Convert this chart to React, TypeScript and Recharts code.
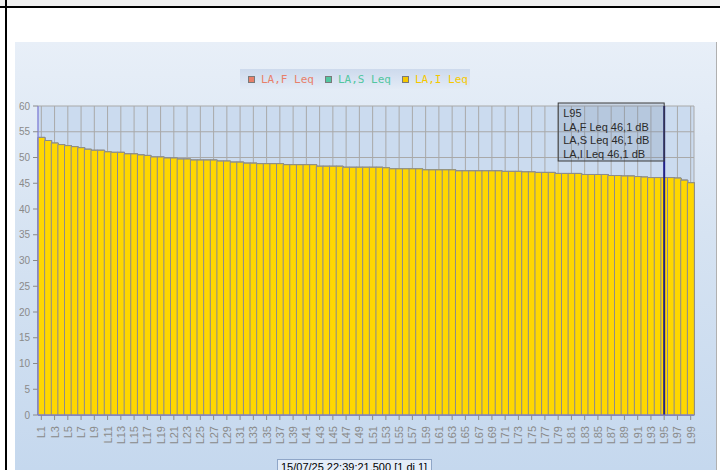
import { BarChart, Bar, XAxis, YAxis, CartesianGrid, ReferenceLine } from 'recharts';

// categories L1..L99 (percentile levels)
const labels = Array.from({ length: 99 }, (_, i) => `L${i + 1}`);

// LA,I Leq values in dB
const laiLeq = [
  53.9, 53.3, 52.8, 52.5, 52.3, 52.1, 51.9, 51.6, 51.4, 51.4,
  51.1, 51.0, 51.0, 50.7, 50.7, 50.5, 50.4, 50.1, 50.1, 49.9,
  49.9, 49.7, 49.7, 49.5, 49.5, 49.5, 49.5, 49.3, 49.3, 49.1,
  49.1, 48.9, 48.9, 48.8, 48.8, 48.8, 48.8, 48.6, 48.6, 48.6,
  48.6, 48.6, 48.3, 48.3, 48.3, 48.3, 48.1, 48.1, 48.1, 48.1,
  48.1, 48.1, 48.0, 47.8, 47.8, 47.8, 47.8, 47.8, 47.6, 47.6,
  47.6, 47.6, 47.6, 47.4, 47.4, 47.4, 47.4, 47.4, 47.4, 47.4,
  47.3, 47.3, 47.3, 47.2, 47.2, 47.1, 47.1, 47.1, 46.9, 46.9,
  46.9, 46.9, 46.7, 46.7, 46.7, 46.7, 46.5, 46.5, 46.4, 46.4,
  46.3, 46.2, 46.1, 46.1, 46.1, 46.1, 46.0, 45.6, 45.1,
];
// F and S weighting give the same levels here (hidden behind the I bars)
const lafLeq = [...laiLeq];
const lasLeq = [...laiLeq];

const yTicks = [0, 5, 10, 15, 20, 25, 30, 35, 40, 45, 50, 55, 60];
const seriesNames = ['LA,F Leq', 'LA,S Leq', 'LA,I Leq'];
const seriesColors = ['#e8806a', '#52c6a0', '#f5c800'];
const markedLabel = 'L95';
const timestamp = '15/07/25 22:39:21.500 [1 di 1]';

const data = labels.map((name, i) => ({
  name,
  f: lafLeq[i],
  s: lasLeq[i],
  i: laiLeq[i],
}));

const fmt = (v: number) => `${v.toFixed(1).replace('.', ',')} dB`;

const XTick = ({ x, y, payload }: any) => (
  <text
    x={x}
    y={y + 4}
    transform={`rotate(-90 ${x} ${y + 4})`}
    textAnchor="end"
    dominantBaseline="central"
    fontSize={11}
    fontFamily="Liberation Sans, Arial, sans-serif"
    fill="#8a8a8a"
  >
    {payload.value}
  </text>
);

const CursorBox = ({ viewBox }: any) => {
  if (!viewBox) return null;
  const idx = labels.indexOf(markedLabel);
  const x = viewBox.x;
  const y = viewBox.y - 3;
  const lines = [
    markedLabel,
    `${seriesNames[0]} ${fmt(lafLeq[idx])}`,
    `${seriesNames[1]} ${fmt(lasLeq[idx])}`,
    `${seriesNames[2]} ${fmt(laiLeq[idx])}`,
  ];
  return (
    <g>
      <rect x={x - 106} y={y} width={106} height={58} fill="rgba(110,130,165,0.22)" stroke="#3a3a3a" />
      {lines.map((t, k) => (
        <text
          key={k}
          x={x - 101}
          y={y + 14 + k * 13.5}
          fontSize={11}
          fontFamily="Liberation Sans, Arial, sans-serif"
          fill="#2a2a2a"
        >
          {t}
        </text>
      ))}
    </g>
  );
};

const Legend = () => (
  <div
    style={{
      position: 'absolute',
      left: 240,
      top: 69,
      width: 230,
      height: 20,
      background: 'linear-gradient(#cddaed, #e3ebf6)',
      display: 'flex',
      alignItems: 'center',
      paddingLeft: 8,
      boxSizing: 'border-box',
      fontFamily: 'DejaVu Sans Mono, monospace',
      fontSize: 11,
    }}
  >
    {seriesNames.map((n, k) => (
      <div key={n} style={{ display: 'flex', alignItems: 'center', marginRight: k < 2 ? 12 : 0 }}>
        <span
          style={{
            width: 5,
            height: 5,
            background: seriesColors[k],
            border: '1px solid #7a7a7a',
            marginRight: 6,
          }}
        />
        <span style={{ color: seriesColors[k], width: 52, whiteSpace: 'nowrap' }}>{n}</span>
      </div>
    ))}
  </div>
);

export default function App() {
  return (
    <div style={{ position: 'fixed', left: 0, top: 0, width: 720, height: 470, background: '#fff', overflow: 'hidden' }}>
      {/* window frame */}
      <div style={{ position: 'absolute', left: 0, top: 0, width: 720, height: 6, background: '#f0f0f0' }} />
      <div style={{ position: 'absolute', left: 0, top: 6, width: 720, height: 2, background: '#000' }} />
      <div style={{ position: 'absolute', left: 5, top: 0, width: 2, height: 470, background: '#000' }} />

      <div
        style={{
          position: 'absolute',
          left: 15,
          top: 42,
          width: 701,
          height: 428,
          background: 'linear-gradient(to bottom, #e8eff8 0%, #d6e3f2 45%, #c5d8ee 100%)',
        }}
      >
        <BarChart
          width={701}
          height={428}
          data={data}
          margin={{ top: 64, right: 22, left: 0, bottom: 0 }}
          barCategoryGap={0}
        >
          <CartesianGrid xAxisId="i" stroke="#a9a9a9" fill="#cbdbef" />
          <XAxis
            xAxisId="i"
            dataKey="name"
            interval={1}
            height={55}
            tick={<XTick />}
            tickSize={5}
            tickLine={{ stroke: '#8a8a8a' }}
            axisLine={{ stroke: '#7b7be8' }}
          />
          <XAxis xAxisId="f" dataKey="name" hide height={0} />
          <XAxis xAxisId="s" dataKey="name" hide height={0} />
          <YAxis
            width={23}
            domain={[0, 60]}
            ticks={yTicks}
            tickSize={5}
            tickMargin={3}
            tick={{ fontSize: 10, fill: '#8a8a8a', fontFamily: 'Liberation Sans, Arial, sans-serif' }}
            tickLine={{ stroke: '#8a8a8a' }}
            axisLine={{ stroke: '#7b7bf0' }}
          />
          <Bar xAxisId="f" dataKey="f" name={seriesNames[0]} fill={seriesColors[0]} stroke="#8c8c8c" isAnimationActive={false} />
          <Bar xAxisId="s" dataKey="s" name={seriesNames[1]} fill={seriesColors[1]} stroke="#8c8c8c" isAnimationActive={false} />
          <Bar xAxisId="i" dataKey="i" name={seriesNames[2]} fill="#ffd700" stroke="#8c8c8c" isAnimationActive={false} />
          <ReferenceLine xAxisId="i" x={markedLabel} stroke="#22228a" strokeWidth={2} label={<CursorBox />} />
        </BarChart>
      </div>
      <div style={{ position: 'absolute', left: 716, top: 42, width: 1, height: 428, background: '#b0b0b0' }} />

      <Legend />

      <div
        style={{
          position: 'absolute',
          left: 277,
          top: 459,
          width: 155,
          height: 16,
          border: '1px solid #8fa6c8',
          background: '#e4edf8',
          fontFamily: 'Liberation Sans, Arial, sans-serif',
          fontSize: 11,
          lineHeight: '14px',
          paddingLeft: 3,
          boxSizing: 'border-box',
          color: '#000',
          whiteSpace: 'nowrap',
        }}
      >
        {timestamp}
      </div>
    </div>
  );
}
